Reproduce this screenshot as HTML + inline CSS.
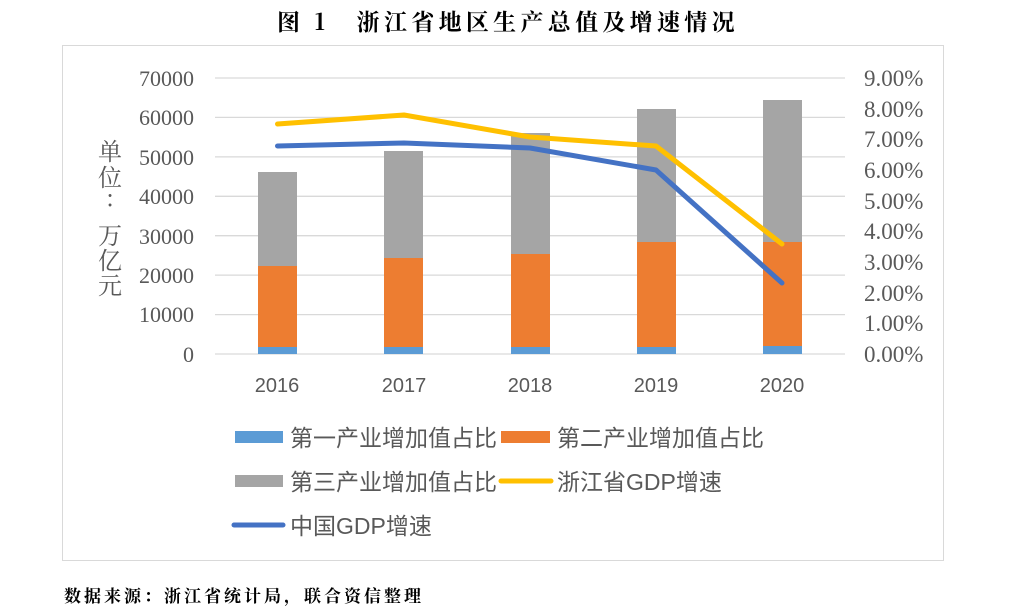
<!DOCTYPE html>
<html><head><meta charset="utf-8"><style>
body{margin:0;background:#fff;width:1022px;height:613px;overflow:hidden}
svg{display:block}
.s{font-family:"Liberation Serif","Noto Serif CJK SC",serif;fill:#595959;font-size:22px}
.r{font-family:"Liberation Serif","Noto Serif CJK SC",serif;fill:#595959;font-size:23px}
.c{font-family:"Liberation Sans","Noto Sans CJK SC",sans-serif;fill:#595959;font-size:20px}
.l{font-family:"Liberation Sans","Noto Sans CJK SC",sans-serif;fill:#595959;font-size:23px}
</style></head><body>
<svg width="1022" height="613" xmlns="http://www.w3.org/2000/svg">
<text x="277" y="30" font-family="'Noto Serif CJK SC',serif" font-weight="bold" font-size="23" letter-spacing="4.3" fill="#000">图 1　浙江省地区生产总值及增速情况</text>
<rect x="62.5" y="45.5" width="881" height="515" fill="none" stroke="#d9d9d9"/>
<g stroke="#d9d9d9" stroke-width="1.3">
<line x1="215" x2="845" y1="78" y2="78"/><line x1="215" x2="845" y1="117.4" y2="117.4"/>
<line x1="215" x2="845" y1="156.9" y2="156.9"/><line x1="215" x2="845" y1="196.3" y2="196.3"/>
<line x1="215" x2="845" y1="235.7" y2="235.7"/><line x1="215" x2="845" y1="275.1" y2="275.1"/>
<line x1="215" x2="845" y1="314.6" y2="314.6"/><line x1="215" x2="845" y1="354" y2="354"/>
</g>
<g class="s" text-anchor="end">
<text x="194" y="86">70000</text><text x="194" y="125">60000</text><text x="194" y="165">50000</text>
<text x="194" y="204">40000</text><text x="194" y="244">30000</text><text x="194" y="283">20000</text>
<text x="194" y="322">10000</text><text x="194" y="362">0</text>
</g>
<g class="r">
<text x="864" y="86">9.00%</text><text x="864" y="117">8.00%</text><text x="864" y="147">7.00%</text>
<text x="864" y="178">6.00%</text><text x="864" y="209">5.00%</text><text x="864" y="239">4.00%</text>
<text x="864" y="270">3.00%</text><text x="864" y="301">2.00%</text><text x="864" y="331">1.00%</text>
<text x="864" y="362">0.00%</text>
</g>
<g font-family="'Noto Serif CJK SC',serif" font-size="24" fill="#595959" text-anchor="middle">
<text x="110" y="160">单</text><text x="110" y="186">位</text><text x="110" y="206">:</text>
<text x="110" y="244">万</text><text x="110" y="269">亿</text><text x="110" y="294">元</text>
</g>
<g>
<rect x="258" y="172" width="39" height="94" fill="#a5a5a5"/><rect x="258" y="266" width="39" height="81" fill="#ed7d31"/><rect x="258" y="347" width="39" height="7" fill="#5b9bd5"/>
<rect x="384" y="151" width="39" height="107" fill="#a5a5a5"/><rect x="384" y="258" width="39" height="89" fill="#ed7d31"/><rect x="384" y="347" width="39" height="7" fill="#5b9bd5"/>
<rect x="511" y="133" width="39" height="121" fill="#a5a5a5"/><rect x="511" y="254" width="39" height="93" fill="#ed7d31"/><rect x="511" y="347" width="39" height="7" fill="#5b9bd5"/>
<rect x="637" y="109" width="39" height="133" fill="#a5a5a5"/><rect x="637" y="242" width="39" height="105" fill="#ed7d31"/><rect x="637" y="347" width="39" height="7" fill="#5b9bd5"/>
<rect x="763" y="100" width="39" height="142" fill="#a5a5a5"/><rect x="763" y="242" width="39" height="104" fill="#ed7d31"/><rect x="763" y="346" width="39" height="8" fill="#5b9bd5"/>
</g>
<polyline points="277.5,124 404,115 530,137 656,146 782,244" fill="none" stroke="#ffc000" stroke-width="5" stroke-linecap="round" stroke-linejoin="round"/>
<polyline points="277.5,146 404,143 530,148 656,170 782,283" fill="none" stroke="#4472c4" stroke-width="5" stroke-linecap="round" stroke-linejoin="round"/>
<g class="c" text-anchor="middle">
<text x="277" y="392">2016</text><text x="404" y="392">2017</text><text x="530" y="392">2018</text><text x="656" y="392">2019</text><text x="782" y="392">2020</text>
</g>
<rect x="235" y="431" width="48" height="12" fill="#5b9bd5"/><text class="l" x="290" y="446">第一产业增加值占比</text>
<rect x="501" y="431" width="49" height="12" fill="#ed7d31"/><text class="l" x="557" y="446">第二产业增加值占比</text>
<rect x="235" y="475" width="48" height="12" fill="#a5a5a5"/><text class="l" x="290" y="490">第三产业增加值占比</text>
<line x1="501" x2="551" y1="481" y2="481" stroke="#ffc000" stroke-width="5" stroke-linecap="round"/><text class="l" x="557" y="490">浙江省GDP增速</text>
<line x1="234" x2="283" y1="525" y2="525" stroke="#4472c4" stroke-width="5" stroke-linecap="round"/><text class="l" x="290" y="534">中国GDP增速</text>
<text x="64" y="602" font-family="'Noto Serif CJK SC',serif" font-size="17" letter-spacing="3" fill="#000" font-weight="bold">数据来源：浙江省统计局，联合资信整理</text>
</svg>
</body></html>
